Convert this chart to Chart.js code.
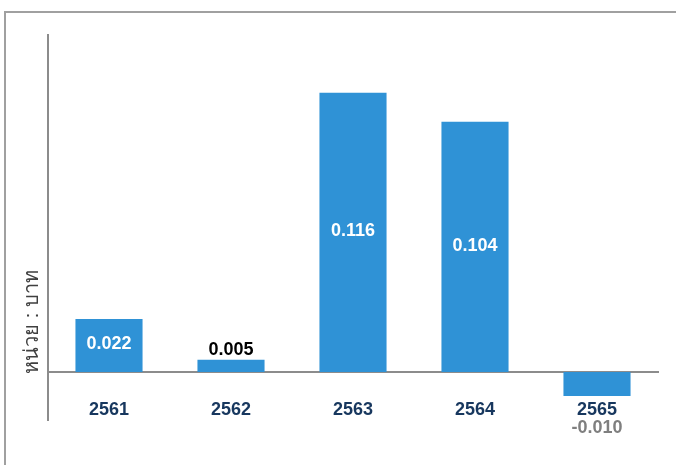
<!DOCTYPE html>
<html><head><meta charset="utf-8">
<script src="https://cdn.jsdelivr.net/npm/chart.js@4"></script>
<style>
html,body{margin:0;padding:0;background:#fff;}
#wrap{position:absolute;left:0;top:0;width:676px;height:465px;}
#frame{position:absolute;left:4px;top:11px;width:700px;height:500px;border-top:2px solid #a0a0a0;border-left:2px solid #a0a0a0;}
canvas{position:absolute;left:0;top:0;}
</style></head>
<body><div id="wrap"><div id="frame"></div><canvas id="c" width="676" height="465"></canvas></div>
<script>
const categories = ["2561","2562","2563","2564","2565"];
const values = [0.022, 0.005, 0.116, 0.104, -0.010];
const valueLabels = ["0.022","0.005","0.116","0.104","-0.010"];
const yTitle = "หน่วย : บาท";

const labelPlugin = {
  id:'labels',
  afterDatasetsDraw(chart){
    const ctx = chart.ctx;
    const meta = chart.getDatasetMeta(0);
    const y = chart.scales.y;
    const zero = y.getPixelForValue(0);
    ctx.save();
    ctx.font = 'bold 18px "Liberation Sans", Arial, sans-serif';
    ctx.textAlign = 'center';
    ctx.textBaseline = 'middle';
    meta.data.forEach((bar,i)=>{
      const v = values[i];
      const h = Math.abs(bar.base - bar.y);
      if (v >= 0 && h > 30) {
        ctx.fillStyle = '#ffffff';
        ctx.fillText(valueLabels[i], bar.x, (bar.y + bar.base)/2 - 1);
      } else if (v >= 0) {
        ctx.fillStyle = '#000000';
        ctx.fillText(valueLabels[i], bar.x, bar.y - 10);
      } else {
        ctx.fillStyle = '#7f7f7f';
        ctx.fillText(valueLabels[i], bar.x, zero + 56);
      }
    });
    // y title
    ctx.font = '20px "Liberation Sans", Arial, sans-serif';
    ctx.fillStyle = '#404040';
    ctx.translate(y.left - 16, zero + 2);
    ctx.rotate(-Math.PI/2);
    ctx.textAlign = 'left';
    ctx.textBaseline = 'middle';
    ctx.fillText(yTitle, 0, 0);
    ctx.restore();
  }
};

new Chart(document.getElementById('c'), {
  type:'bar',
  data:{labels:categories, datasets:[{data:values, backgroundColor:'#2f92d6', borderWidth:0, categoryPercentage:1, barPercentage:0.55}]},
  options:{
    responsive:false, animation:false, devicePixelRatio:1,
    layout:{padding:{left:48, top:35, right:18, bottom:45}},
    plugins:{legend:{display:false}, tooltip:{enabled:false}},
    scales:{
      x:{position:{y:0}, grid:{display:false, drawTicks:false}, border:{display:true, color:'#8c8c8c', width:2},
         ticks:{padding:27, color:'#17375e', font:{family:'"Liberation Sans", Arial, sans-serif', size:18, weight:'bold'}}},
      y:{min:-0.02, max:0.14, grid:{display:false, drawTicks:false}, border:{display:true, color:'#8c8c8c', width:2},
         ticks:{display:false}}
    }
  },
  plugins:[labelPlugin]
});
</script></body></html>
